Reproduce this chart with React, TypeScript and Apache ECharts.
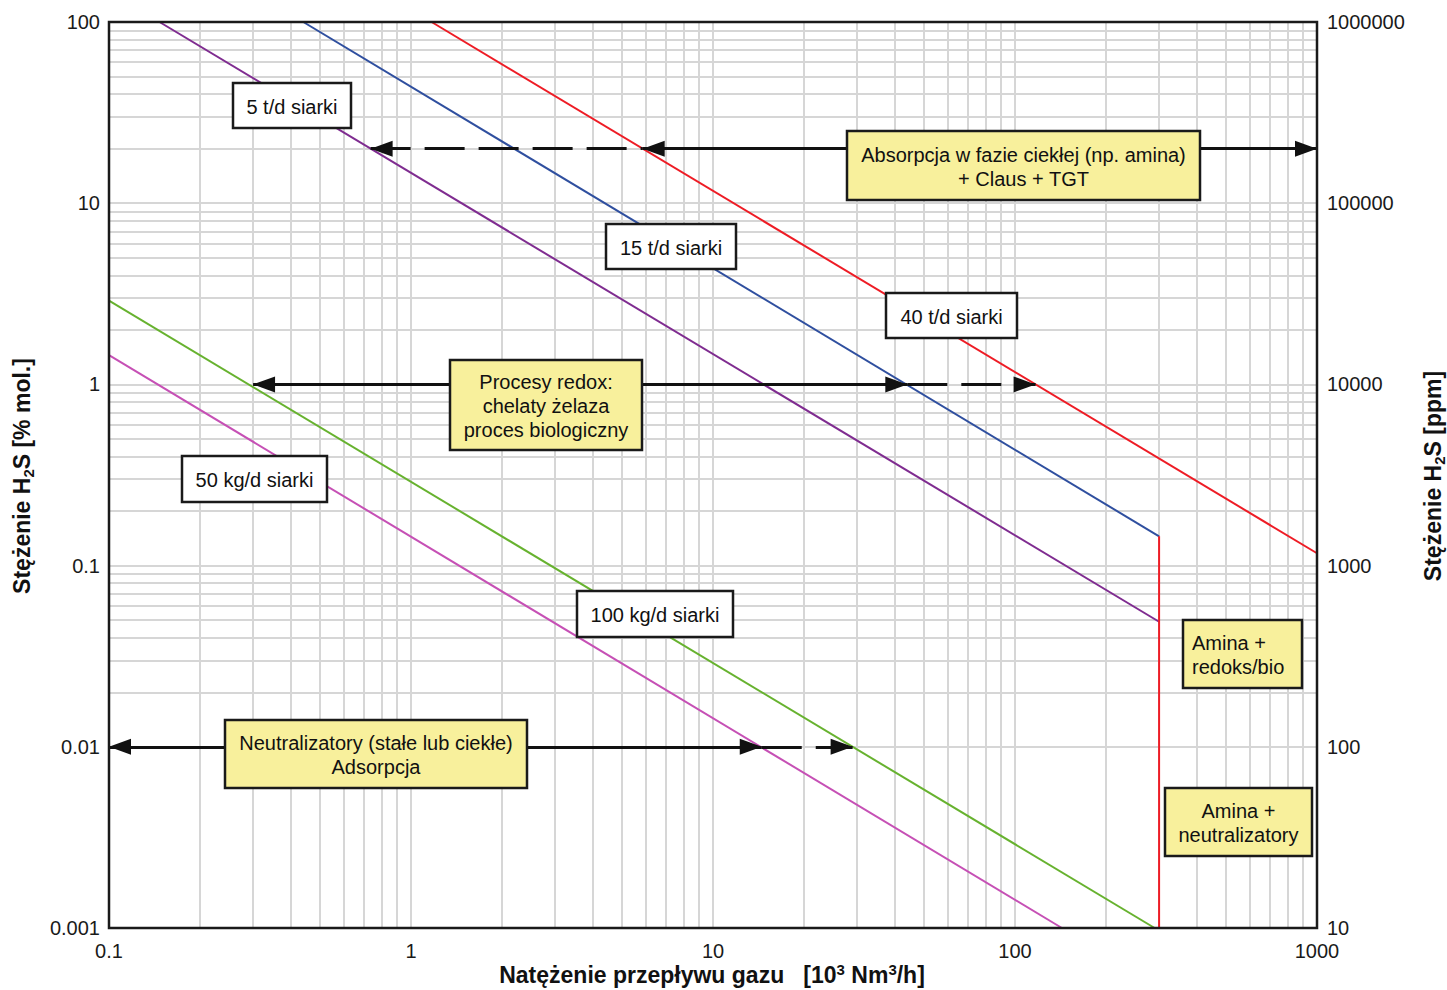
import React, { useEffect, useRef } from 'react';
import * as echarts from 'echarts';

const FONT = '"Liberation Sans", Arial, Helvetica, sans-serif';

// grid helpers (log decades and minor steps)
const xDecades = [0.1, 1, 10, 100];
const yDecades = [0.001, 0.01, 0.1, 1, 10];
const minorSteps = [2, 3, 4, 5, 6, 7, 8, 9];

// constant sulphur-load lines [flow 10^3 Nm3/h, H2S % mol.]
const line5t = [[0.147, 100], [300, 0.049]];
const line15t = [[0.44, 100], [300, 0.145]];
const line40t = [[1.17, 100], [1000, 0.117]];
const limit300 = [[300, 0.145], [300, 0.001]];
const line100kg = [[0.1, 2.9], [290, 0.001]];
const line50kg = [[0.1, 1.45], [143, 0.001]];

// process-range arrows: y level and x extents
const absorpcjaY = 20;
const absorpcjaDashed = [0.735, 5.85];
const absorpcjaSolid = [5.85, 1000];
const redoxY = 1;
const redoxSolid = [0.3, 44];
const redoxDashed = [44, 117];
const neutralY = 0.01;
const neutralSolid = [0.1, 14.5];
const neutralDashed = [14.5, 29];

const fmt = (v: number) => String(Number(v.toPrecision(6)));

function roundTo(v: number) {
  return Number(v.toPrecision(6));
}

const xMinor: number[] = [];
xDecades.forEach((d) => minorSteps.forEach((m) => xMinor.push(roundTo(d * m))));
const yMinor: number[] = [];
yDecades.forEach((d) => minorSteps.forEach((m) => yMinor.push(roundTo(d * m))));

const ARROW = 'triangle';
const AS: [number, number] = [16, 22];

function seg(y: number, xs: number[], startArrow: boolean, endArrow: boolean) {
  return [
    { coord: [xs[0], y], symbol: startArrow ? ARROW : 'none', symbolSize: AS, symbolOffset: [0, AS[1] / 2] },
    { coord: [xs[1], y], symbol: endArrow ? ARROW : 'none', symbolSize: AS, symbolOffset: [0, AS[1] / 2] },
  ];
}

function box(
  left: number, top: number, w: number, h: number, text: string,
  fill: string, align: 'center' | 'left' = 'center'
) {
  return {
    type: 'group',
    x: left,
    y: top,
    z: 50,
    children: [
      {
        type: 'rect',
        z: 50,
        shape: { x: 0, y: 0, width: w, height: h },
        style: { fill, stroke: '#1a1a1a', lineWidth: 2.5 },
      },
      {
        type: 'text',
        z: 51,
        x: align === 'center' ? w / 2 : 9,
        y: h / 2 + 1,
        style: {
          text,
          align,
          verticalAlign: 'middle',
          font: `20px ${FONT}`,
          lineHeight: 24,
          fill: '#111',
        },
      },
    ],
  };
}

const YELLOW = '#f8f09c';
const TITLE = `bold 23px ${FONT}`;
const SMALL = `bold 15px ${FONT}`;

export default function App() {
  const ref = useRef<HTMLDivElement>(null);
  useEffect(() => {
    if (!ref.current) return;
    const chart = echarts.init(ref.current, undefined, { renderer: 'svg' });
    const dataLine = (name: string, data: number[][], color: string) => ({
      name,
      type: 'line',
      data,
      showSymbol: false,
      symbol: 'none',
      z: 3,
      lineStyle: { color, width: 2 },
      silent: true,
    });
    chart.setOption({
      animation: false,
      textStyle: { fontFamily: FONT },
      grid: {
        left: 109, top: 22, right: 130, bottom: 62, z: 8,
        show: true, borderColor: '#1a1a1a', borderWidth: 2.5, backgroundColor: 'transparent',
      },
      xAxis: {
        type: 'log', logBase: 10, min: 0.1, max: 1000,
        axisLine: { show: false }, axisTick: { show: false },
        axisLabel: { fontSize: 20, color: '#1a1a1a', margin: 13, formatter: fmt },
        splitLine: { show: true, lineStyle: { color: '#d6d6d6', width: 2 } },
      },
      yAxis: [
        {
          type: 'log', logBase: 10, min: 0.001, max: 100,
          axisLine: { show: false }, axisTick: { show: false },
          axisLabel: { fontSize: 20, color: '#1a1a1a', margin: 9, formatter: fmt },
          splitLine: { show: true, lineStyle: { color: '#d6d6d6', width: 2 } },
        },
        {
          type: 'log', logBase: 10, min: 10, max: 1000000, position: 'right',
          axisLine: { show: false }, axisTick: { show: false },
          axisLabel: { fontSize: 20, color: '#1a1a1a', margin: 10, formatter: fmt },
          splitLine: { show: false },
        },
      ],
      series: [
        {
          name: 'grid',
          type: 'line',
          data: [],
          z: 1,
          silent: true,
          markLine: {
            z: 1,
            silent: true,
            symbol: 'none',
            animation: false,
            label: { show: false },
            lineStyle: { color: '#d6d6d6', width: 2, type: 'solid' },
            emphasis: { disabled: true },
            data: [
              ...xMinor.map((v) => ({ xAxis: v })),
              ...yMinor.map((v) => ({ yAxis: v })),
            ],
          },
        },
        dataLine('5 t/d siarki', line5t, '#7f2c90'),
        dataLine('15 t/d siarki', line15t, '#2f4f9f'),
        dataLine('40 t/d siarki', line40t, '#ee1c25'),
        dataLine('granica', limit300, '#ee1c25'),
        dataLine('100 kg/d siarki', line100kg, '#67b22f'),
        dataLine('50 kg/d siarki', line50kg, '#c650b5'),
        {
          name: 'solid arrows',
          type: 'line',
          data: [],
          z: 4,
          clip: false,
          silent: true,
          markLine: {
            z: 6,
            silent: true,
            animation: false,
            label: { show: false },
            emphasis: { disabled: true },
            lineStyle: { color: '#111', width: 3, type: 'solid' },
            itemStyle: { color: '#111' },
            data: [
              seg(absorpcjaY, absorpcjaSolid, true, true),
              seg(redoxY, redoxSolid, true, true),
              seg(neutralY, neutralSolid, true, true),
            ],
          },
        },
        {
          name: 'dashed arrows',
          type: 'line',
          data: [],
          z: 4,
          clip: false,
          silent: true,
          markLine: {
            z: 6,
            silent: true,
            animation: false,
            label: { show: false },
            emphasis: { disabled: true },
            lineStyle: { color: '#111', width: 3, type: [40, 14] },
            itemStyle: { color: '#111' },
            data: [
              seg(absorpcjaY, absorpcjaDashed, true, false),
              seg(redoxY, redoxDashed, false, true),
              seg(neutralY, neutralDashed, false, true),
            ],
          },
        },
      ],
      graphic: [
        box(233, 83, 118, 45, '5 t/d siarki', '#ffffff'),
        box(606, 224, 130, 45, '15 t/d siarki', '#ffffff'),
        box(886, 293, 131, 45, '40 t/d siarki', '#ffffff'),
        box(182, 456, 145, 46, '50 kg/d siarki', '#ffffff'),
        box(577, 591, 156, 46, '100 kg/d siarki', '#ffffff'),
        box(847, 131, 353, 69, 'Absorpcja w fazie ciekłej (np. amina)\n+ Claus + TGT', YELLOW),
        box(450, 360, 192, 90, 'Procesy redox:\nchelaty żelaza\nproces biologiczny', YELLOW),
        box(225, 720, 302, 68, 'Neutralizatory (stałe lub ciekłe)\nAdsorpcja', YELLOW),
        box(1183, 620, 119, 68, 'Amina +\nredoks/bio', YELLOW, 'left'),
        box(1165, 788, 147, 68, 'Amina +\nneutralizatory', YELLOW),
        {
          type: 'text',
          x: 22,
          y: 476,
          rotation: Math.PI / 2,
          z: 60,
          style: {
            text: '{a|Stężenie H}{s|2}{a|S [% mol.]}',
            align: 'center',
            verticalAlign: 'middle',
            rich: {
              a: { font: TITLE, fill: '#111', lineHeight: 27, verticalAlign: 'middle' },
              s: { font: SMALL, fill: '#111', lineHeight: 15, verticalAlign: 'bottom' },
            },
          },
        },
        {
          type: 'text',
          x: 1433,
          y: 476,
          rotation: Math.PI / 2,
          z: 60,
          style: {
            text: '{a|Stężenie H}{s|2}{a|S [ppm]}',
            align: 'center',
            verticalAlign: 'middle',
            rich: {
              a: { font: TITLE, fill: '#111', lineHeight: 27, verticalAlign: 'middle' },
              s: { font: SMALL, fill: '#111', lineHeight: 15, verticalAlign: 'bottom' },
            },
          },
        },
        {
          type: 'text',
          x: 712,
          y: 975,
          z: 60,
          style: {
            text: '{a|Natężenie przepływu gazu   [10}{p|3}{a| Nm}{p|3}{a|/h]}',
            align: 'center',
            verticalAlign: 'middle',
            rich: {
              a: { font: TITLE, fill: '#111', lineHeight: 27, verticalAlign: 'middle' },
              p: { font: SMALL, fill: '#111', lineHeight: 15, verticalAlign: 'top' },
            },
          },
        },
      ],
    });
    return () => chart.dispose();
  }, []);
  return (
    <div
      ref={ref}
      style={{ position: 'fixed', left: 0, top: 0, width: 1447, height: 990, background: '#fff' }}
    />
  );
}
